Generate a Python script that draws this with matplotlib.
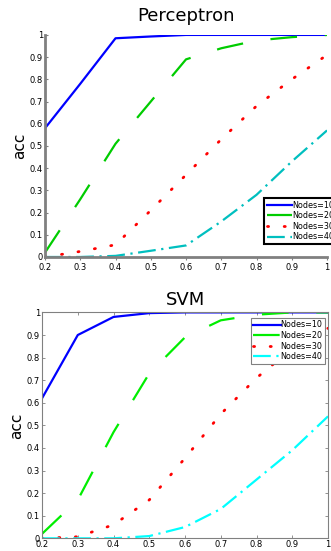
import matplotlib.pyplot as plt

# x positions (training fraction)
x = [0.2, 0.3, 0.4, 0.5, 0.6, 0.7, 0.8, 0.9, 1.0]
labels = ['Nodes=10', 'Nodes=20', 'Nodes=30', 'Nodes=40']

# Perceptron accuracy
perc_10 = [0.58, 0.78, 0.985, 0.993, 1.0, 1.0, 1.0, 1.0, 1.0]
perc_20 = [0.02, 0.26, 0.51, 0.70, 0.89, 0.94, 0.975, 0.99, 1.0]
perc_30 = [0.0, 0.025, 0.055, 0.21, 0.37, 0.53, 0.68, 0.80, 0.91]
perc_40 = [0.0, 0.0, 0.005, 0.028, 0.052, 0.16, 0.28, 0.43, 0.57]

# SVM accuracy
svm_10 = [0.62, 0.90, 0.98, 0.997, 1.0, 1.0, 1.0, 1.0, 1.0]
svm_20 = [0.02, 0.17, 0.47, 0.73, 0.89, 0.965, 0.99, 1.0, 1.0]
svm_30 = [0.0, 0.007, 0.06, 0.17, 0.355, 0.55, 0.71, 0.84, 0.93]
svm_40 = [0.0, 0.0, 0.0, 0.01, 0.05, 0.13, 0.26, 0.39, 0.54]

xticks = [0.2, 0.3, 0.4, 0.5, 0.6, 0.7, 0.8, 0.9, 1.0]
xticklabels = ['0.2', '0.3', '0.4', '0.5', '0.6', '0.7', '0.8', '0.9', '1']
yticks = [0, 0.1, 0.2, 0.3, 0.4, 0.5, 0.6, 0.7, 0.8, 0.9, 1.0]
yticklabels = ['0', '0.1', '0.2', '0.3', '0.4', '0.5', '0.6', '0.7', '0.8', '0.9', '1']

# MATLAB-ish line styles
dash = (12, 12.5)
dot = (0.4, 5.6)
dashdot = (8, 2.5, 1, 2.5)

fig = plt.figure(figsize=(3.31, 5.51), dpi=100)

# Perceptron subplot
ax = fig.add_axes([0.136, 0.5336, 0.852, 0.403])
ax.plot(x, perc_10, color='#0000ff', lw=1.6, label=labels[0])
ax.plot(x, perc_20, color='#00cc00', lw=1.6, dashes=dash, label=labels[1])
ax.plot(x, perc_30, color='#ff0000', lw=2, dashes=dot, dash_capstyle='round',
        label=labels[2])
ax.plot(x, perc_40, color='#00bfbf', lw=1.6, dashes=dashdot, label=labels[3])
ax.set_xlim(0.2, 1.0)
ax.set_ylim(0, 1.0)
ax.set_xticks(xticks)
ax.set_xticklabels(xticklabels)
ax.set_yticks(yticks)
ax.set_yticklabels(yticklabels)
for s in ['top', 'right']:
    ax.spines[s].set_visible(False)
for s in ['left', 'bottom']:
    ax.spines[s].set_color('#808080')
    ax.spines[s].set_linewidth(2)
ax.tick_params(axis='both', labelsize=6, length=2.5, width=0.8,
               color='#808080', pad=1.5, direction='in')
ax.tick_params(axis='x', direction='out')
ax.set_title('Perceptron', fontsize=13, pad=10)
ax.set_ylabel('acc', fontsize=11, labelpad=2)
leg = ax.legend(loc='upper left', bbox_to_anchor=(0.777, 0.265), fontsize=5.8,
                frameon=True, fancybox=False, handlelength=3.2, handletextpad=0.0,
                borderpad=0.3, labelspacing=0.2, borderaxespad=0)
leg.get_frame().set_edgecolor('black')
leg.get_frame().set_linewidth(1.5)
leg.get_frame().set_alpha(1)

# SVM subplot
bx = fig.add_axes([0.127, 0.023, 0.864, 0.41])
bx.plot(x, svm_10, color='#0000ff', lw=1.6, label=labels[0])
bx.plot(x, svm_20, color='#00ee00', lw=1.6, dashes=dash, label=labels[1])
bx.plot(x, svm_30, color='#ff0000', lw=2, dashes=dot, dash_capstyle='round',
        label=labels[2])
bx.plot(x, svm_40, color='#00ffff', lw=1.6, dashes=dashdot, label=labels[3])
bx.set_xlim(0.2, 1.0)
bx.set_ylim(0, 1.0)
bx.set_xticks(xticks)
bx.set_xticklabels(xticklabels)
bx.set_yticks(yticks)
bx.set_yticklabels(yticklabels)
for s in bx.spines.values():
    s.set_color('#808080')
    s.set_linewidth(0.8)
bx.tick_params(axis='both', labelsize=6, length=2.5, width=0.6, color='#808080',
               pad=1.5, direction='in', top=True, right=True)
bx.set_title('SVM', fontsize=13, pad=5)
bx.set_ylabel('acc', fontsize=11, labelpad=2)
leg2 = bx.legend(loc='upper right', bbox_to_anchor=(0.99, 0.975), fontsize=5.8,
                 frameon=True, fancybox=False, handlelength=3.4, handletextpad=0.0,
                 borderpad=0.3, labelspacing=0.2, borderaxespad=0)
leg2.get_frame().set_edgecolor('#808080')
leg2.get_frame().set_linewidth(0.8)
leg2.get_frame().set_alpha(1)

fig.savefig('out.png', dpi=100)
